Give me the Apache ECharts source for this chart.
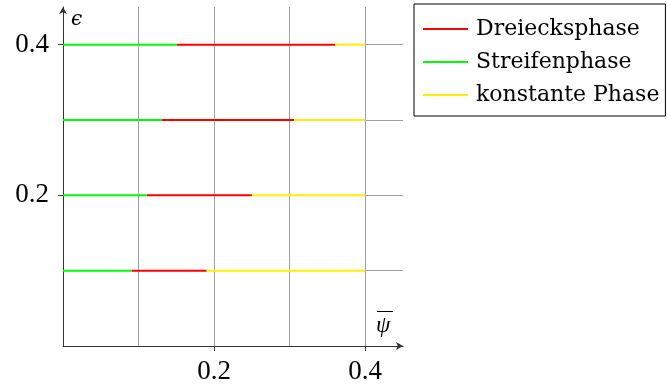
<!DOCTYPE html>
<html><head><meta charset="utf-8">
<script src="https://cdn.jsdelivr.net/npm/echarts@6/dist/echarts.min.js"></script>
<style>html,body{margin:0;padding:0;background:#fff}#c{width:668px;height:385px}</style>
</head><body><div id="c"></div>
<script>
// epsilon levels
const epsilon = [0.1, 0.2, 0.3, 0.4];
// Streifenphase spans from 0 to this value
const stripeEnd = [0.091, 0.111, 0.131, 0.151];
// Dreiecksphase spans from stripeEnd to this value
const triangleEnd = [0.190, 0.250, 0.306, 0.360];
// konstante Phase spans from triangleEnd to this value
const constEnd = [0.4, 0.4, 0.4, 0.4];
const xStart = [0, 0, 0, 0];
const tickLabels = [0.2, 0.4];
const phaseNames = ['Dreiecksphase', 'Streifenphase', 'konstante Phase'];
const phaseColors = ['#ff0000', '#00ff00', '#ffee00'];

const segs = {
  'Streifenphase': [xStart, stripeEnd],
  'Dreiecksphase': [stripeEnd, triangleEnd],
  'konstante Phase': [triangleEnd, constEnd]
};
const series = [];
phaseNames.forEach((name, k) => {
  const [a, b] = segs[name];
  epsilon.forEach((e, i) => {
    series.push({
      name, type: 'line', symbol: 'none', silent: true,
      lineStyle: { color: phaseColors[k], width: 2 },
      itemStyle: { color: phaseColors[k] },
      data: [[a[i], e], [b[i], e]], z: 3
    });
  });
});

const serif = 'Liberation Serif';
const fmt = v => tickLabels.some(t => Math.abs(t - v) < 1e-9) ? v.toFixed(1) : '';
const axisCommon = {
  type: 'value', min: 0, max: 0.45, interval: 0.1,
  axisLine: { show: true, lineStyle: { color: '#333', width: 1 }, symbol: ['none', 'arrow'], symbolSize: [6, 7] },
  axisTick: { show: false },
  axisLabel: { formatter: fmt, color: '#000', fontFamily: serif, fontSize: 27 },
  splitLine: { show: true, showMinLine: false, showMaxLine: false, lineStyle: { color: '#a0a0a0', width: 1 } }
};
// overlay axes that carry only the tick marks at the labelled values
const tickAxis = {
  type: 'value', min: 0, max: 0.45, interval: 0.1,
  axisLine: { show: false },
  axisTick: { show: true, customValues: tickLabels, length: 5, lineStyle: { color: '#444', width: 1 } },
  axisLabel: { show: true, customValues: tickLabels, formatter: () => '' },
  splitLine: { show: false }
};

const chart = echarts.init(document.getElementById('c'));
chart.setOption({
  animation: false,
  grid: { left: 63, right: 265, top: 7, bottom: 38, containLabel: false },
  xAxis: [
    Object.assign({}, axisCommon, { position: 'bottom', axisLabel: Object.assign({}, axisCommon.axisLabel, { margin: 12 }) }),
    Object.assign({}, tickAxis, { position: 'bottom', offset: 0 })
  ],
  yAxis: [
    Object.assign({}, axisCommon, { position: 'left', axisLabel: Object.assign({}, axisCommon.axisLabel, { margin: 14 }) }),
    Object.assign({}, tickAxis, { position: 'left', offset: 0 })
  ],
  legend: {
    data: phaseNames, orient: 'vertical', left: 414, top: 4,
    icon: 'rect', itemWidth: 45, itemHeight: 2, itemGap: 11,
    borderColor: '#000', borderWidth: 1, padding: [14, 6, 10, 9],
    textStyle: { fontFamily: 'DejaVu Serif', fontSize: 22, color: '#000', padding: [0, 0, 0, 3] }
  },
  graphic: [
    { type: 'text', left: 71, top: 10, style: { text: 'ϵ', font: 'italic 20px "DejaVu Serif"', fill: '#000' } },
    { type: 'text', left: 376, top: 314, style: { text: 'ψ', font: 'italic 23px "Liberation Serif"', fill: '#000' } },
    { type: 'rect', shape: { x: 377, y: 311, width: 16, height: 1 }, style: { fill: '#000' } }
  ],
  series
});
</script></body></html>
